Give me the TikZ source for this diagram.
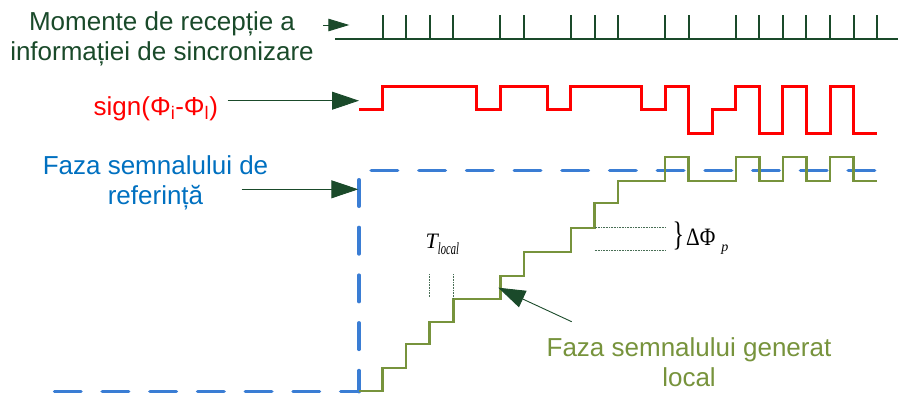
\documentclass[tikz,border=0pt]{standalone}
\usepackage{fontspec}
\usepackage{graphicx}
\setmainfont{Liberation Sans}
\newfontfamily\serifmath{Liberation Serif}
\usetikzlibrary{arrows.meta}
\definecolor{syncgreen}{RGB}{26,74,42}
\definecolor{signred}{RGB}{255,0,0}
\definecolor{reftext}{RGB}{0,112,192}
\definecolor{refdash}{RGB}{58,125,212}
\definecolor{localgreen}{RGB}{119,147,60}

\begin{document}
\begin{tikzpicture}[x=1pt, y=-1pt,
  lbl/.style={font=\fontsize{26}{30}\selectfont, align=center, inner sep=0pt},
  ptr/.style={draw=syncgreen, line width=0.9pt, -{Triangle[length=27pt, width=18pt]}},
  smallptr/.style={draw=syncgreen, line width=0.9pt, -{Triangle[length=21pt, width=12.5pt]}},
  refline/.style={refdash, line width=3.5pt, line cap=round, dash pattern=on 26.5pt off 21.2pt},
  guide/.style={syncgreen!80, line width=0.6pt, dash pattern=on 0.8pt off 0.8pt},
]
  \useasboundingbox (0,0) rectangle (899,394);

  % Moments of reception
  \node[lbl, syncgreen] (recvlbl) at (162,39) {Momente de recepție a\\informației de sincronizare};
  \coordinate (recvout) at (323,25);
  \coordinate (recvin) at (349.3,25);
  \draw[smallptr] (recvout) -- (recvin);
  \draw[syncgreen, line width=2pt] (335,39.3) -- (898,39.3);

  % Sign of the phase difference
  \node[lbl, signred, anchor=base] (signlbl) at (155.8,115) {sign(Φ\textsubscript{i}-Φ\textsubscript{l})};
  \coordinate (signout) at (227.7,100.7);
  \coordinate (signin) at (359,100.7);
  \draw[ptr] (signout) -- (signin);

  % Reference phase (dashed)
  \node[lbl, reftext] (reflbl) at (155.5,183.3) {Faza semnalului de\\referință};
  \coordinate (refout) at (241.7,189.3);
  \coordinate (refin) at (358.3,189.3);
  \draw[refline] (54.5,391.7) -- (359,391.7);
  \draw[refline, dash phase=5.35pt] (359,391.7) -- (359,170.7) -- (876,170.7);
  \draw[ptr] (refout) -- (refin);

  % Time grid: one unit = one local clock period
  \begin{scope}[shift={(359,0)}, x=23.55pt]
    \foreach \n in {1,2,3,4,6,7,9,10,11,13,14,16,17,18,19,20,21,22} {
      \draw[syncgreen, line width=2pt] (\n,15) -- (\n,39.3);
    }

    % sign waveform
    \draw[signred, line width=3pt]
      (0,109) -| (1,86) -| (5,109) -| (6,86) -| (8,109) -| (9,86) -| (12,109)
      -| (13,86) -| (14,133) -| (15,109) -| (16,86) -| (17,133) -| (18,86)
      -| (19,133) -| (20,86) -| (21,133) -- (22,133);

    % local phase staircase
    \draw[localgreen, line width=2.6pt]
      (0,391) -| (1,368) -| (2,344) -| (3,322) -| (4,299) -| (6,276) -| (7,252)
      -| (9,228) -| (10,203) -| (11,181) -| (13,157) -| (14,181) -| (16,157)
      -| (17,181) -| (18,157) -| (19,181) -| (20,157) -| (21,181) -- (22,181);

    % T_local and Delta Phi_p guides
    \draw[guide] (3,274) -- (3,297);
    \draw[guide] (4,274) -- (4,299);
    \draw[guide] (10,227.5) -- (13,227.5);
    \draw[guide] (10,250) -- (13,250);
  \end{scope}

  \node[inner sep=0pt, anchor=base west] (tlocal) at (425.5,248)
    {\serifmath\fontsize{22}{22}\selectfont\itshape T\raisebox{-6pt}{\fontsize{17}{17}\selectfont\scalebox{0.62}[1]{local}}};
  \node[inner sep=0pt, anchor=base west] (dphase) at (672.5,245.7)
    {\serifmath\fontsize{34}{34}\selectfont\scalebox{0.7}[1]{\}}\kern2pt\fontsize{25}{25}\selectfont\scalebox{0.85}[1]{ΔΦ}\kern6pt\raisebox{-5.3pt}{\fontsize{14}{14}\selectfont\itshape p}};

  % Locally generated phase
  \node[lbl, localgreen] (genlbl) at (689,362.2) {Faza semnalului generat\\local};
  \coordinate (genout) at (571.7,321.7);
  \coordinate (genin) at (498.3,287.7);
  \draw[ptr] (genout) -- (genin);

\end{tikzpicture}
\end{document}
